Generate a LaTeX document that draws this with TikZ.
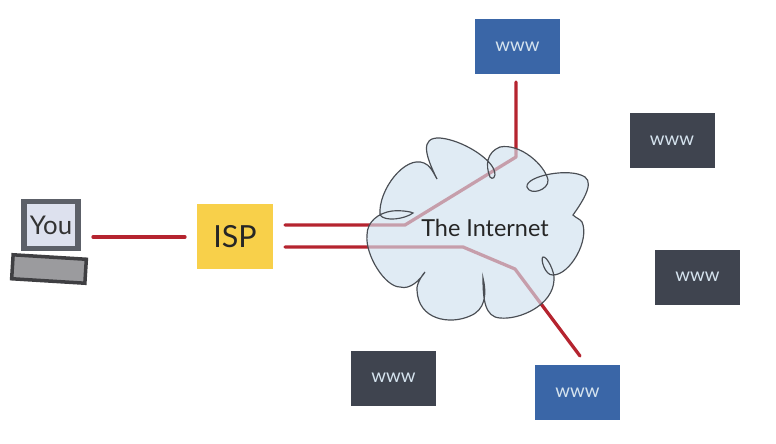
\documentclass[tikz,border=0pt]{standalone}
\usepackage{fontspec}
\setmainfont{Lato}
\definecolor{wireRed}{HTML}{B5242F}
\definecolor{cloudBlue}{HTML}{D0E0EE}
\definecolor{cloudLine}{HTML}{4A4E54}
\definecolor{siteBlue}{HTML}{3A66A7}
\definecolor{siteDark}{HTML}{3F444F}
\definecolor{ispYellow}{HTML}{F8D04A}
\definecolor{screenFill}{HTML}{DDE1EE}
\definecolor{screenEdge}{HTML}{5C6068}
\definecolor{keysFill}{HTML}{9B9B9E}
\definecolor{keysEdge}{HTML}{3F3F42}
\definecolor{sitePale}{HTML}{D5E3EE}
\tikzset{
  wire/.style={draw=wireRed, line width=2.8pt, line cap=round, line join=round},
  site/.style={minimum width=2.55cm, minimum height=1.65cm, inner sep=0pt,
    text=sitePale, font=\fontsize{16}{16}\selectfont},
  ispbox/.style={fill=ispYellow, minimum width=2.28cm, minimum height=1.95cm,
    inner sep=0pt, text=black!85, font=\fontsize{26}{26}\selectfont},
  screenbox/.style={fill=screenFill, draw=screenEdge, line width=4.6pt,
    minimum width=1.62cm, minimum height=1.41cm, inner sep=0pt,
    text=black!80, font=\fontsize{22}{22}\selectfont},
  keysbox/.style={fill=keysFill, draw=keysEdge, line width=3pt,
    minimum width=2.2cm, minimum height=0.72cm, inner sep=0pt, rotate=-3.5}
}
\begin{document}
\begin{tikzpicture}[x=0.03cm,y=-0.03cm]
  \useasboundingbox (0,0) rectangle (776,444);

  % The laptop and the ISP
  \node[screenbox] (you) at (51,225) {You};
  \node[keysbox] (keys) at (49,269) {};
  \node[ispbox] (isp) at (235,236.5) {ISP};

  % The web sites
  \foreach \name/\x/\y/\col in {siteA/517.5/46.5/siteBlue, siteB/672/140.5/siteDark,
    siteC/697.5/277/siteDark, siteD/393.5/378/siteDark, siteE/577.5/392.5/siteBlue}{
    \node[site, fill=\col] (\name) at (\x,\y) {www};
  }

  % Ends and bends of the wires
  \coordinate (youEnd) at (93,237);
  \coordinate (ispIn) at (185,237);
  \coordinate (ispUp) at (285,225);
  \coordinate (ispDown) at (285,247);
  \coordinate (upBendA) at (405,225);
  \coordinate (upBendB) at (516,157);
  \coordinate (upEnd) at (516,82);
  \coordinate (downBendA) at (463,247);
  \coordinate (downBendB) at (515,269);
  \coordinate (downEnd) at (580,356);

  % Draw the wires, the cloud goes over them
  \draw[wire] (youEnd) -- (ispIn);
  \draw[wire] (ispUp) -- (upBendA) -- (upBendB) -- (upEnd);
  \draw[wire] (ispDown) -- (downBendA) -- (downBendB) -- (downEnd);

  % Define the cloud
  \def\cloudpath{
    (380,215) .. controls (378,190) and (405,155) .. (424,163)
    .. controls (430,165) and (433,172) .. (437,179)
    .. controls (425,155) and (420,137) .. (440,138)
    .. controls (462,140) and (490,158) .. (494,170)
    .. controls (497,178) and (492,180) .. (490,177)
    .. controls (485,165) and (487,152) .. (500,147)
    .. controls (520,143) and (545,165) .. (548,180)
    .. controls (549,190) and (530,196) .. (527,187)
    .. controls (525,176) and (570,167) .. (585,177)
    .. controls (595,184) and (580,205) .. (573,215)
    .. controls (576,218) and (580,219) .. (582,222)
    .. controls (590,240) and (570,275) .. (553,275)
    .. controls (545,276) and (540,258) .. (543,257)
    .. controls (547,256) and (555,272) .. (554,280)
    .. controls (553,305) and (520,320) .. (500,318)
    .. controls (485,317) and (483,300) .. (483,278)
    .. controls (487,295) and (485,310) .. (470,316)
    .. controls (450,325) and (418,320) .. (417,290)
    .. controls (416,285) and (422,275) .. (425,272)
    .. controls (420,280) and (410,290) .. (400,287)
    .. controls (385,287) and (365,255) .. (367,235)
    .. controls (367,222) and (378,213) .. (392,211)
    .. controls (402,210) and (412,212) .. (413,213)
    .. controls (405,219) and (385,222) .. (380,215)
  }

  % Draw the cloud
  \fill[cloudBlue, fill opacity=0.65] \cloudpath;
  \draw[cloudLine, line width=1pt] \cloudpath;
  \node[text=black!85, font=\fontsize{20}{20}\selectfont] (cloudname) at (485,228) {The Internet};
\end{tikzpicture}
\end{document}
